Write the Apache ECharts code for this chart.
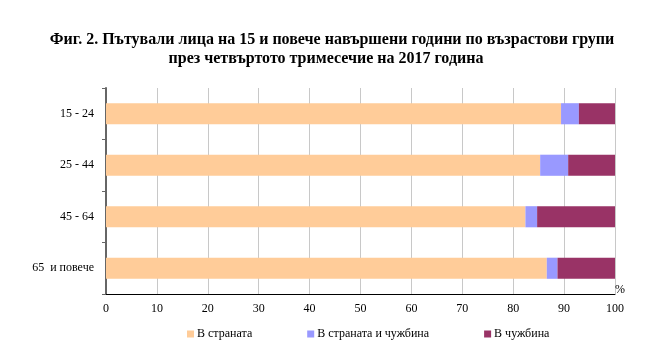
<!DOCTYPE html>
<html><head><meta charset="utf-8">
<script src="https://cdn.jsdelivr.net/npm/echarts@6/dist/echarts.min.js"></script>
<style>html,body{margin:0;padding:0;background:#fff}#c{width:658px;height:360px}</style>
</head><body><div id="c"></div>
<script>
const categories = ['15 - 24', '25 - 44', '45 - 64', '65  и повече'];
const seriesNames = ['В страната', 'В страната и чужбина', 'В чужбина'];
const domestic = [89.4, 85.3, 82.4, 86.6];
const both = [3.5, 5.5, 2.3, 2.1];
const abroad = [7.1, 9.2, 15.3, 11.3];
const xTicks = [0, 10, 20, 30, 40, 50, 60, 70, 80, 90, 100];

const font = 'Liberation Serif, Times New Roman, serif';
const colors = ['#FFCC99', '#9999FF', '#993366'];
const chart = echarts.init(document.getElementById('c'));
chart.setOption({
  animation: false,
  textStyle: {fontFamily: font},
  title: [{
    text: 'Фиг. 2. Пътували лица на 15 и повече навършени години по възрастови групи',
    left: 327, top: 27, textAlign: 'center',
    textStyle: {fontFamily: font, fontSize: 16, fontWeight: 'bold', color: '#000'}
  }, {
    text: 'през четвъртото тримесечие на 2017 година',
    left: 321, top: 46, textAlign: 'center',
    textStyle: {fontFamily: font, fontSize: 16, fontWeight: 'bold', color: '#000'}
  }],
  legend: {
    left: 182, top: 323, itemWidth: 7, itemHeight: 7, itemGap: 55,
    icon: 'rect',
    textStyle: {fontFamily: font, fontSize: 12, color: '#000', padding: [0, 0, 0, -2]},
    data: seriesNames
  },
  grid: {left: 106, right: 43, top: 88, bottom: 66},
  xAxis: {
    type: 'value', min: 0, max: 100, interval: 10,
    name: '%', nameLocation: 'end', nameGap: 0,
    nameTextStyle: {fontFamily: font, fontSize: 12, color: '#000', verticalAlign: 'bottom', padding: [0, 0, -2, 0]},
    axisLine: {show: true, lineStyle: {color: '#000', width: 1}},
    axisTick: {show: false},
    axisLabel: {fontFamily: font, fontSize: 12, color: '#000', margin: 9,
      formatter: v => xTicks.includes(v) ? String(v) : ''},
    splitLine: {show: true, lineStyle: {color: '#c8c8c8', width: 1}}
  },
  yAxis: {
    type: 'category', data: categories, inverse: true,
    axisLine: {show: true, lineStyle: {color: '#666', width: 2}},
    axisTick: {show: true, length: 4, lineStyle: {color: '#666'}},
    axisLabel: {fontFamily: font, fontSize: 12, color: '#000', margin: 12}
  },
  series: [domestic, both, abroad].map((d, i) => ({
    name: seriesNames[i], type: 'bar', stack: 'a', data: d,
    barCategoryGap: '59%',
    itemStyle: {color: colors[i]}
  }))
});
</script></body></html>
